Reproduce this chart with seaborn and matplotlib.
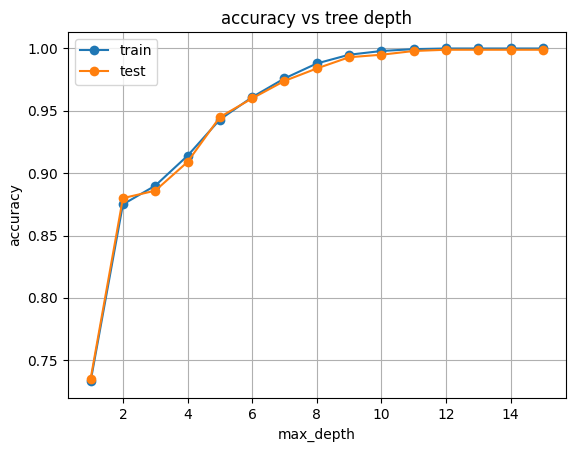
import matplotlib
matplotlib.use("Agg")
import matplotlib.pyplot as plt
import seaborn as sns
import pandas as pd

depths = list(range(1, 16))
train_acc = [0.733, 0.875, 0.890, 0.914, 0.943, 0.961, 0.976, 0.988, 0.995, 0.998,
             0.9995, 1.0, 1.0, 1.0, 1.0]
test_acc = [0.735, 0.880, 0.886, 0.909, 0.945, 0.960, 0.974, 0.984, 0.993, 0.995,
            0.998, 0.999, 0.999, 0.999, 0.999]

df = pd.DataFrame({"max_depth": depths * 2,
                   "accuracy": train_acc + test_acc,
                   "set": ["train"] * 15 + ["test"] * 15})

fig, ax = plt.subplots(figsize=(5.76, 4.55), dpi=100)
sns.lineplot(data=df, x="max_depth", y="accuracy", hue="set", marker="o",
             markersize=7, markeredgewidth=0, palette=["#1f77b4", "#ff7f0e"], ax=ax)
ax.legend(title=None, loc="upper left")
ax.set_title("accuracy vs tree depth")
ax.grid(True)
fig.subplots_adjust(left=0.118, right=0.982, top=0.93, bottom=0.125)
plt.savefig("out.png")
